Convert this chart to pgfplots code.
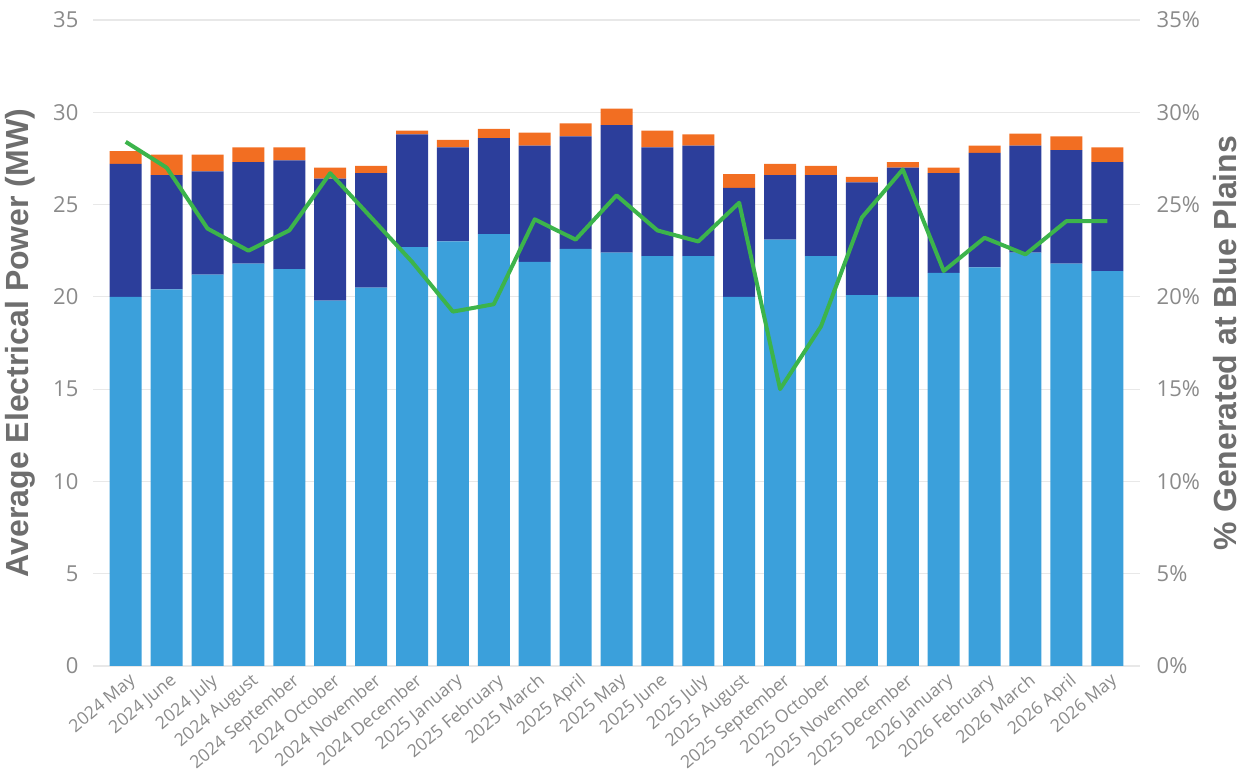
\documentclass[border=0pt]{standalone}
\usepackage{pgfplots}
\pgfplotsset{compat=1.18}
\usepackage{pgfplotstable}
\usepackage{fontspec}
\setmainfont{Open Sans}
\newfontfamily\labfont{Liberation Sans}
\definecolor{lblue}{RGB}{59,160,219}
\definecolor{dblue}{RGB}{44,62,155}
\definecolor{orng}{RGB}{242,110,34}
\definecolor{grn}{RGB}{60,180,75}
\definecolor{tickgray}{RGB}{138,138,138}
\definecolor{labgray}{RGB}{110,110,110}
\definecolor{gridgray}{RGB}{232,232,232}

\pgfplotstableread{
x light dark orange pct
0 20.0 7.2 0.7 28.4
1 20.4 6.2 1.1 27.0
2 21.2 5.6 0.9 23.7
3 21.8 5.5 0.8 22.5
4 21.5 5.9 0.7 23.6
5 19.8 6.6 0.6 26.7
6 20.5 6.2 0.4 24.3
7 22.7 6.1 0.2 21.9
8 23.0 5.1 0.4 19.2
9 23.4 5.2 0.5 19.6
10 21.9 6.3 0.7 24.2
11 22.6 6.1 0.7 23.1
12 22.4 6.9 0.9 25.5
13 22.2 5.9 0.9 23.6
14 22.2 6.0 0.6 23.0
15 20.0 5.9 0.75 25.1
16 23.1 3.5 0.6 15.0
17 22.2 4.4 0.5 18.4
18 20.1 6.1 0.3 24.3
19 20.0 7.0 0.3 26.9
20 21.3 5.4 0.3 21.4
21 21.6 6.2 0.4 23.2
22 22.4 5.8 0.65 22.3
23 21.8 6.15 0.75 24.1
24 21.4 5.9 0.8 24.1
}\data

\begin{document}
\begin{tikzpicture}
\useasboundingbox (-46.5pt,-52pt) rectangle (575.5pt,333pt);
\begin{axis}[
  at={(0,0)}, anchor=south west,
  width=523.5pt, height=323pt, scale only axis,
  xmin=-0.8, xmax=24.8, ymin=0, ymax=35,
  ybar stacked, bar width=16pt,
  xtick=data,
  xticklabels={2024 May,2024 June,2024 July,2024 August,2024 September,2024 October,2024 November,2024 December,2025 January,2025 February,2025 March,2025 April,2025 May,2025 June,2025 July,2025 August,2025 September,2025 October,2025 November,2025 December,2026 January,2026 February,2026 March,2026 April,2026 May},
  ytick={0,5,...,35}, yticklabels={0,5,10,15,20,25,30,35},
  ymajorgrids, grid style={gridgray, line width=0.6pt},
  axis line style={draw=none},
  major tick length=0,
  tick label style={color=tickgray},
  yticklabel style={font=\fontsize{11}{13}\selectfont, xshift=-3.8pt},
  xticklabel style={font=\fontsize{8.8}{10}\selectfont, rotate=40, anchor=north east, inner sep=1pt, yshift=-2pt},
  ylabel={Average Electrical Power (MW)},
  every axis y label/.style={at={(axis description cs:-0.069,0.5)}, rotate=90, anchor=center, font=\labfont\bfseries\fontsize{16}{18}\selectfont, color=labgray},
]
\addplot[fill=lblue, draw=none] table[x=x,y=light]{\data};
\addplot[fill=dblue, draw=none] table[x=x,y=dark]{\data};
\addplot[fill=orng, draw=none] table[x=x,y=orange]{\data};
\end{axis}
\begin{axis}[
  at={(0,0)}, anchor=south west,
  width=523.5pt, height=323pt, scale only axis,
  xmin=-0.8, xmax=24.8, ymin=0, ymax=35,
  axis y line*=right, axis x line=none,
  axis line style={draw=none},
  major tick length=0,
  ytick={0,5,...,35}, yticklabels={0\%,5\%,10\%,15\%,20\%,25\%,30\%,35\%},
  yticklabel style={font=\fontsize{11}{13}\selectfont, xshift=4.8pt, color=tickgray},
  ylabel={\% Generated at Blue Plains},
  every axis y label/.style={at={(axis description cs:1.081,0.5)}, rotate=90, anchor=center, font=\labfont\bfseries\fontsize{16}{18}\selectfont, color=labgray},
]
\addplot[grn, line width=2pt, line join=round, mark=none] table[x=x,y=pct]{\data};
\end{axis}
\end{tikzpicture}
\end{document}
